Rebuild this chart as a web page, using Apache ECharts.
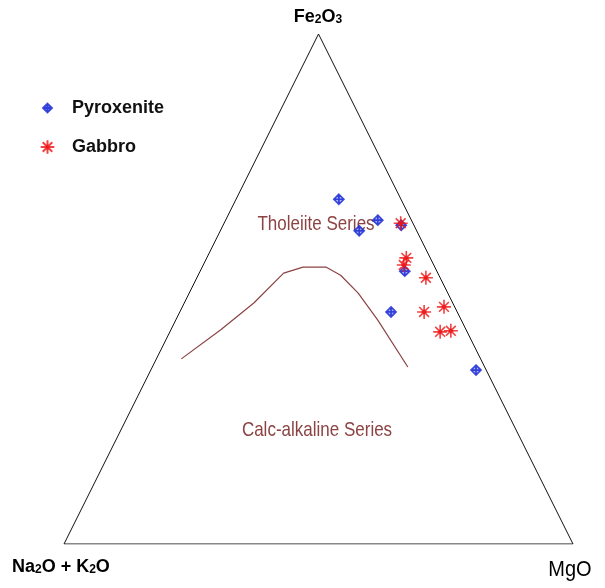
<!DOCTYPE html>
<html>
<head>
<meta charset="utf-8">
<script src="https://cdn.jsdelivr.net/npm/echarts@6/dist/echarts.min.js"></script>
<style>html,body{margin:0;padding:0;background:#fff}#c{width:605px;height:588px}</style>
</head>
<body>
<div id="c"></div>
<script>
// Ternary values in % : Fe2O3 (F), MgO (M), Na2O+K2O (A)
var pyroxeniteF = [67.6, 63.5, 61.4, 62.5, 53.5, 45.5, 34.1];
var pyroxeniteM = [20.2, 29.9, 27.3, 35.0, 40.2, 41.5, 63.9];
var pyroxeniteA = [12.2, 6.6, 11.3, 2.5, 6.3, 13.0, 2.0];

var gabbroF = [62.9, 56.1, 54.7, 52.2, 45.5, 46.5, 41.6, 41.8];
var gabbroM = [34.7, 39.2, 39.4, 45.0, 48.0, 51.4, 53.1, 55.1];
var gabbroA = [2.4, 4.7, 5.9, 2.8, 6.5, 2.1, 5.3, 3.1];

// Tholeiite / calc-alkaline boundary
var boundaryF = [36.3, 42.0, 47.3, 53.1, 54.3, 54.3, 52.7, 49.2, 43.9, 34.7];
var boundaryM = [4.9, 9.8, 13.7, 16.6, 19.8, 24.3, 28.0, 33.2, 39.7, 50.2];

// triangle vertices: A (Na2O+K2O), M (MgO), F (Fe2O3), back to A
var vertexF = [0, 0, 100, 0];
var vertexM = [0, 100, 0, 0];

var seriesNames = ['Pyroxenite', 'Gabbro'];

function toXY(F, M) {
  var out = [];
  for (var i = 0; i < F.length; i++) {
    var f = F[i] / 100, m = M[i] / 100;
    out.push([m + f / 2, f]);
  }
  return out;
}

var diamondPath = 'path://M0,-10 L10,0 L0,10 L-10,0 Z M0,-10 L0,10 M-10,0 L10,0';
var diamondLegend = 'path://M-17,-17 M17,17 M0,-10 L10,0 L0,10 L-10,0 Z M0,-10 L0,10 M-10,0 L10,0';
var starPath = 'path://M0,-10 L0,10 M-10,0 L10,0 M-7,-7 L7,7 M-7,7 L7,-7 M-3.5,0 L0,-3.5 L3.5,0 L0,3.5 Z';
var starLegend = 'path://M-11,-11 M11,11 M0,-10 L0,10 M-10,0 L10,0 M-7,-7 L7,7 M-7,7 L7,-7 M-3.5,0 L0,-3.5 L3.5,0 L0,3.5 Z';

var brown = '#8c4343';
var font = '"Liberation Sans", Arial, sans-serif';
var chart = echarts.init(document.getElementById('c'));
chart.setOption({
  animation: false,
  backgroundColor: '#fff',
  grid: {left: 64, right: 32, top: 34, bottom: 44},
  xAxis: {type: 'value', min: 0, max: 1, show: false},
  yAxis: {type: 'value', min: 0, max: 1, show: false},
  legend: {
    orient: 'vertical', left: 34, top: 94, itemGap: 21,
    itemWidth: 15, itemHeight: 15,
    data: [{name: seriesNames[0], icon: diamondLegend}, {name: seriesNames[1], icon: starLegend}],
    textStyle: {fontFamily: font, fontWeight: 'bold', fontSize: 18, color: '#111', padding: [0, 0, 0, 12]}
  },
  graphic: [
    {type: 'text', x: 318, y: 17, style: {text: '{b|Fe}{s|2}{b|O}{s|3}', align: 'center', verticalAlign: 'middle',
      rich: {b: {fontFamily: font, fontWeight: 'bold', fontSize: 18, fill: '#000'},
             s: {fontFamily: font, fontWeight: 'bold', fontSize: 12, fill: '#000', verticalAlign: 'bottom'}}}},
    {type: 'text', x: 12, y: 567, style: {text: '{b|Na}{s|2}{b|O + K}{s|2}{b|O}', align: 'left', verticalAlign: 'middle',
      rich: {b: {fontFamily: font, fontWeight: 'bold', fontSize: 18, fill: '#000'},
             s: {fontFamily: font, fontWeight: 'bold', fontSize: 12, fill: '#000', verticalAlign: 'bottom'}}}},
    {type: 'text', x: 570, y: 570, scaleY: 1.1, style: {text: 'MgO', align: 'center', verticalAlign: 'middle',
      font: '20px ' + font, fill: '#000'}},
    {type: 'text', x: 316, y: 224, scaleY: 1.2, style: {text: 'Tholeiite Series', align: 'center', verticalAlign: 'middle',
      font: '17px ' + font, fill: brown}},
    {type: 'text', x: 317, y: 430, scaleY: 1.2, style: {text: 'Calc-alkaline Series', align: 'center', verticalAlign: 'middle',
      font: '17px ' + font, fill: brown}}
  ],
  series: [
    {type: 'line', data: toXY(vertexF, vertexM), symbol: 'none', silent: true,
      lineStyle: {color: '#111', width: 1}, z: 1},
    {type: 'line', data: toXY(boundaryF, boundaryM), symbol: 'none', silent: true,
      lineStyle: {color: brown, width: 1.2}, z: 1},
    {name: seriesNames[0], type: 'scatter', data: toXY(pyroxeniteF, pyroxeniteM), symbol: diamondPath, symbolSize: 10,
      itemStyle: {color: '#9aa6ff', borderColor: '#1020d0', borderWidth: 1.7}, z: 3},
    {name: seriesNames[1], type: 'scatter', data: toXY(gabbroF, gabbroM), symbol: starPath, symbolSize: 14,
      itemStyle: {color: '#ee1111', borderColor: '#ee1111', borderWidth: 1.6}, z: 4}
  ]
});
</script>
</body>
</html>
